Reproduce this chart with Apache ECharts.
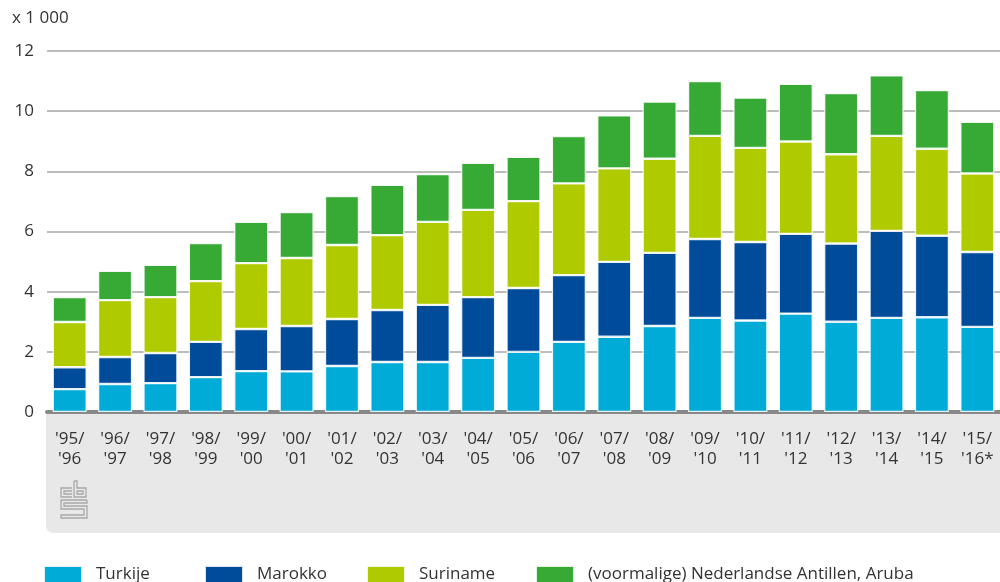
<!DOCTYPE html>
<html>
<head>
<meta charset="utf-8">
<script src="https://cdn.jsdelivr.net/npm/echarts@6/dist/echarts.min.js"></script>
<style>
html,body{margin:0;padding:0;background:#fff;}
#c{width:1000px;height:582px;}
</style>
</head>
<body>
<div id="c"></div>
<script>
const categories = ["'95/\n'96","'96/\n'97","'97/\n'98","'98/\n'99","'99/\n'00","'00/\n'01","'01/\n'02","'02/\n'03","'03/\n'04","'04/\n'05","'05/\n'06","'06/\n'07","'07/\n'08","'08/\n'09","'09/\n'10","'10/\n'11","'11/\n'12","'12/\n'13","'13/\n'14","'14/\n'15","'15/\n'16*"];
const turkije   = [0.76,0.93,0.96,1.16,1.36,1.35,1.53,1.66,1.66,1.80,2.00,2.33,2.50,2.86,3.13,3.04,3.27,3.00,3.13,3.15,2.83];
const marokko   = [0.73,0.90,1.00,1.17,1.40,1.51,1.56,1.73,1.90,2.02,2.12,2.22,2.49,2.43,2.62,2.61,2.65,2.60,2.89,2.71,2.49];
const suriname  = [1.50,1.89,1.86,2.02,2.19,2.26,2.46,2.49,2.76,2.90,2.89,3.05,3.11,3.13,3.43,3.13,3.07,2.97,3.16,2.89,2.61];
const antillen  = [0.83,0.97,1.07,1.27,1.37,1.53,1.63,1.67,1.59,1.56,1.47,1.57,1.76,1.90,1.82,1.67,1.92,2.03,2.01,1.95,1.72];
const seriesNames = ['Turkije','Marokko','Suriname','(voormalige) Nederlandse Antillen, Aruba'];
const colors = ['#00abd8','#004c9b','#b0ca00','#37a935'];
const yTicks = {min:0, max:12, interval:2};
const unitLabel = 'x 1 000';

const font = '"Open Sans", "Noto Sans", sans-serif';
const chart = echarts.init(document.getElementById('c'), null, {renderer:'canvas'});
const dataSets = [turkije, marokko, suriname, antillen];
const legendLefts = [43, 204, 366, 535];

const option = {
  animation: false,
  textStyle: {fontFamily: font},
  grid: {left: 47, right: -7, top: 51, bottom: 170, containLabel: false},
  legend: seriesNames.map((n, i) => ({
    data: [n], left: legendLefts[i], top: 565, padding: 0,
    itemWidth: 38, itemHeight: 17, icon: 'rect',
    selectedMode: false,
    textStyle: {fontFamily: font, fontSize: 17, color: '#333', padding: [0,0,0,9]}
  })),
  xAxis: {
    type: 'category', data: categories,
    axisLine: {show: true, lineStyle: {color: '#888', width: 4}},
    axisTick: {show: false},
    axisLabel: {interval: 0, fontSize: 17, lineHeight: 20, color: '#333', margin: 17, fontFamily: font}
  },
  yAxis: {
    type: 'value', min: yTicks.min, max: yTicks.max, interval: yTicks.interval,
    axisLine: {show: false}, axisTick: {show: false},
    axisLabel: {fontSize: 17, color: '#333', margin: 13, fontFamily: font},
    splitLine: {show: true, lineStyle: {color: '#a6a6a6', width: 1.5}}
  },
  series: dataSets.map((d, i) => ({
    name: seriesNames[i], type: 'bar', stack: 'total', data: d,
    barWidth: 34,
    itemStyle: {color: colors[i], borderColor: 'rgba(255,255,255,0.85)', borderWidth: 1.2}
  })),
  graphic: {elements: [
    {type: 'rect', z: -10, shape: {x: 46, y: 413, width: 970, height: 120, r: [0,0,0,7]}, style: {fill: '#e8e8e8'}},
    {type: 'text', left: 12, top: 10, style: {text: unitLabel, fontSize: 17, fill: '#333', fontFamily: font}},
    {type: 'group', z: -5, children: [
      {type: 'polyline', shape: {points: [[72,488],[61,488],[61,497],[72,497]]}, style: {stroke: '#a8a8a8', lineWidth: 1.3, fill: null}},
      {type: 'polyline', shape: {points: [[72,491],[64,491],[64,494],[72,494]]}, style: {stroke: '#a8a8a8', lineWidth: 1.3, fill: null}},
      {type: 'polyline', shape: {points: [[74,481],[74,497],[86,497],[86,488],[77,488],[77,481],[74,481]]}, style: {stroke: '#a8a8a8', lineWidth: 1.3, fill: null}},
      {type: 'polyline', shape: {points: [[77,491],[83,491],[83,494],[77,494],[77,491]]}, style: {stroke: '#a8a8a8', lineWidth: 1.3, fill: null}},
      {type: 'polyline', shape: {points: [[87,500],[61,500],[61,509],[84,509],[84,515],[61,515],[61,518],[87,518],[87,506],[64,506],[64,503],[87,503],[87,500]]}, style: {stroke: '#a8a8a8', lineWidth: 1.3, fill: null}}
    ]}
  ]}
};
chart.setOption(option);
</script>
</body>
</html>
